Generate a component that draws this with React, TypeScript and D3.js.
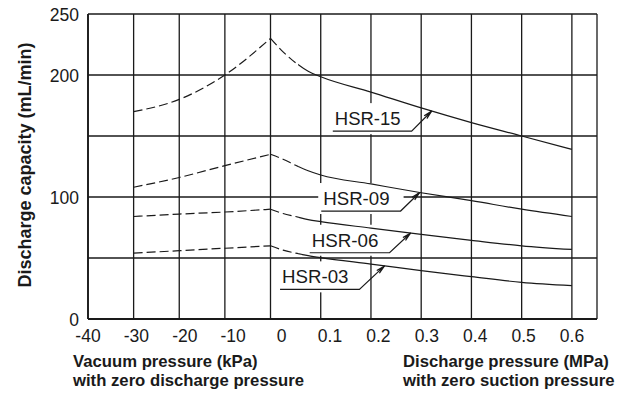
import React from "react";
import * as d3 from "d3";

// vacuum side (kPa) and discharge side (MPa) sample points
const vacuumKPa = [-30, -20, -10, 0];
const dischargeMPa = [0, 0.025, 0.05, 0.075, 0.1, 0.2, 0.3, 0.4, 0.5, 0.6];

const models = ["HSR-15", "HSR-09", "HSR-06", "HSR-03"];

const hsr15Vacuum = [170, 180, 200, 230];
const hsr15Discharge = [230, 219, 210, 203, 198.6, 186, 173, 161, 150, 139];
const hsr09Vacuum = [108, 116, 125.7, 135];
const hsr09Discharge = [135, 131, 126, 121.5, 118, 110.7, 103.5, 97, 90, 84];
const hsr06Vacuum = [84, 86, 87.7, 90];
const hsr06Discharge = [90, 86.5, 84, 81.5, 79.8, 74.5, 69.4, 64.5, 60, 57];
const hsr03Vacuum = [54, 56, 58, 60];
const hsr03Discharge = [60, 56.5, 54, 52, 50.3, 45, 39.6, 34.7, 30, 27.3];

const yTicks = [0, 50, 100, 150, 200, 250];
const yTickLabels = ["0", "", "100", "", "200", "250"];
const vacuumGrid = [-40, -30, -20, -10, 0];
const dischargeGrid = [0.1, 0.2, 0.3, 0.4, 0.5, 0.6, 0.65];
const xTickLabels = ["-40", "-30", "-20", "-10", "0", "0.1", "0.2", "0.3", "0.4", "0.5", "0.6"];

// label annotations (underline y in mL/min, x in MPa)
const labelUnderline = [154, 88.5, 54.3, 24.3];
const labelStart = [0.124, 0.101, 0.078, 0.019];
const labelEnd = [0.281, 0.259, 0.237, 0.177];
const arrowTip = [0.321, 0.297, 0.279, 0.227];

const dashEnd = 0.055;

const W = 625;
const H = 395;
const FONT = "'Liberation Sans', Arial, Helvetica, sans-serif";
const INK = "#1a1a1a";

const App = () => {
  const y = d3.scaleLinear().domain([0, 250]).range([319, 14]);
  const xVac = d3.scaleLinear().domain([-40, 0]).range([88, 270.5]);
  const xDis = d3.scaleLinear().domain([0, 0.65]).range([270.5, 597]);
  const xLabel = d3.scalePoint<string>().domain(xTickLabels).range([88, 572]);

  const series = [
    { vac: hsr15Vacuum, dis: hsr15Discharge },
    { vac: hsr09Vacuum, dis: hsr09Discharge },
    { vac: hsr06Vacuum, dis: hsr06Discharge },
    { vac: hsr03Vacuum, dis: hsr03Discharge },
  ].map((s, i) => {
    const vacPts = vacuumKPa.map((k, j) => [xVac(k), y(s.vac[j])] as [number, number]);
    const disPts = dischargeMPa.map((m, j) => [xDis(m), y(s.dis[j])] as [number, number]);
    return { name: models[i], vacPts, disPts, dis: s.dis };
  });

  const line = d3.line().curve(d3.curveMonotoneX);
  const splitX = xDis(dashEnd);

  const interp = (vals: number[], m: number) => {
    const idx = d3.bisectRight(dischargeMPa, m) - 1;
    const i0 = Math.max(0, Math.min(idx, dischargeMPa.length - 2));
    const t = (m - dischargeMPa[i0]) / (dischargeMPa[i0 + 1] - dischargeMPa[i0]);
    return vals[i0] + t * (vals[i0 + 1] - vals[i0]);
  };

  const gridX = [...vacuumGrid.map((v) => xVac(v)), ...dischargeGrid.map((v) => xDis(v))];

  return (
    <svg
      width={W}
      height={H}
      style={{ position: "absolute", left: 0, top: 0, background: "#fff" }}
      fontFamily={FONT}
    >
      <defs>
        <clipPath id="dashClip">
          <rect x={0} y={0} width={splitX} height={H} />
        </clipPath>
        <clipPath id="solidClip">
          <rect x={splitX} y={0} width={W - splitX} height={H} />
        </clipPath>
      </defs>

      {/* grid */}
      <g stroke={INK} strokeWidth={1.3}>
        {yTicks.map((t) => (
          <line key={"h" + t} x1={88} x2={597} y1={y(t)} y2={y(t)} />
        ))}
        {gridX.map((gx, i) => (
          <line key={"v" + i} x1={gx} x2={gx} y1={y(250)} y2={y(0)} />
        ))}
        <line x1={88} x2={597} y1={y(0)} y2={y(0)} strokeWidth={1.8} />
        <line x1={88} x2={88} y1={y(0)} y2={y(250)} strokeWidth={1.8} />
      </g>

      {/* label masks */}
      {models.map((m, i) => (
        <rect
          key={"mask" + m}
          x={xDis(labelStart[i]) - 3}
          y={y(labelUnderline[i]) - 28}
          width={xDis(labelEnd[i]) - xDis(labelStart[i]) + 6}
          height={31}
          fill="#fff"
        />
      ))}

      {/* curves: dashed vacuum side, dashed-then-solid discharge side */}
      {series.map((s) => (
        <g key={s.name} fill="none" stroke={INK} strokeWidth={1.2}>
          <path d={line(s.vacPts) || ""} strokeDasharray="9,4" />
          <path d={line(s.disPts) || ""} clipPath="url(#dashClip)" strokeDasharray="9,4" />
          <path d={line(s.disPts) || ""} clipPath="url(#solidClip)" />
        </g>
      ))}

      {/* labels with leaders */}
      {series.map((s, i) => {
        const x0 = xDis(labelStart[i]);
        const x1 = xDis(labelEnd[i]);
        const uy = y(labelUnderline[i]);
        const tx = xDis(arrowTip[i]);
        const ty = y(interp(s.dis, arrowTip[i]));
        const ang = Math.atan2(ty - uy, tx - x1);
        const len = 9;
        const spread = 0.22;
        const b1 = [tx - len * Math.cos(ang - spread), ty - len * Math.sin(ang - spread)];
        const b2 = [tx - len * Math.cos(ang + spread), ty - len * Math.sin(ang + spread)];
        const b3 = [tx - 4 * Math.cos(ang), ty - 4 * Math.sin(ang)];
        return (
          <g key={"lab" + s.name}>
            <text
              x={x0 + 2}
              y={uy - 6}
              fontSize={17.5}
              fill={INK}
              textLength={xDis(labelEnd[i]) - x0 - 13}
              lengthAdjust="spacingAndGlyphs"
            >
              {s.name}
            </text>
            <path
              d={`M${x0},${uy}H${x1}L${tx},${ty}`}
              fill="none"
              stroke={INK}
              strokeWidth={1.2}
            />
            <path
              d={`M${b1[0]},${b1[1]}L${tx},${ty}L${b2[0]},${b2[1]}M${b1[0]},${b1[1]}L${b3[0]},${b3[1]}L${b2[0]},${b2[1]}`}
              fill="none"
              stroke={INK}
              strokeWidth={1.1}
            />
          </g>
        );
      })}

      {/* y tick labels */}
      {yTicks.map((t, i) => (
        <text key={"yl" + t} x={79} y={y(t) + 7} textAnchor="end" fontSize={17.5} fill={INK}>
          {yTickLabels[i]}
        </text>
      ))}

      {/* x tick labels */}
      {xTickLabels.map((l) => (
        <text key={"xl" + l} x={xLabel(l)} y={342} textAnchor="middle" fontSize={17.5} fill={INK}>
          {l}
        </text>
      ))}

      {/* axis titles */}
      <text
        transform="translate(31,165) rotate(-90)"
        textAnchor="middle"
        fontSize={18}
        fontWeight="bold"
        fill={INK}
      >
        Discharge capacity (mL/min)
      </text>
      <text x={73} y={366.5} fontSize={16.7} fontWeight="bold" fill={INK}>
        Vacuum pressure (kPa)
      </text>
      <text x={73} y={386} fontSize={16.7} fontWeight="bold" fill={INK}>
        with zero discharge pressure
      </text>
      <text x={403} y={366.5} fontSize={16.7} fontWeight="bold" fill={INK}>
        Discharge pressure (MPa)
      </text>
      <text x={403} y={386} fontSize={16.7} fontWeight="bold" fill={INK}>
        with zero suction pressure
      </text>
    </svg>
  );
};

export default App;
